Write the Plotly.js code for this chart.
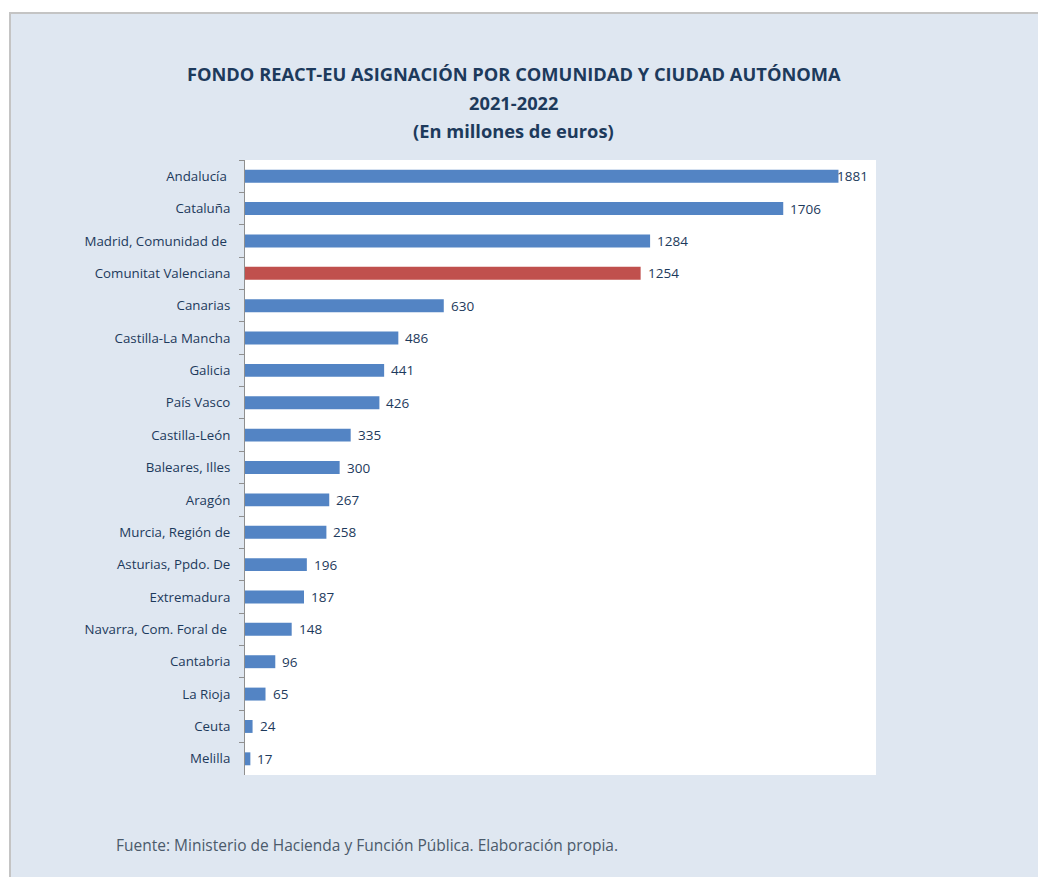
<!DOCTYPE html>
<html>
<head>
<meta charset="utf-8">
<script src="https://cdn.plot.ly/plotly-3.0.1.min.js"></script>
<style>
  html, body { margin: 0; padding: 0; background: #ffffff; }
  #chart { position: absolute; left: 9px; top: 12px; width: 1029px; height: 865px;
           border-top: 2px solid #c4c4c4; border-left: 2px solid #c4c4c4; }
</style>
</head>
<body>
<div id="chart"></div>
<script>
const categories = [
  "Andalucía ", "Cataluña", "Madrid, Comunidad de ", "Comunitat Valenciana",
  "Canarias", "Castilla-La Mancha", "Galicia", "País Vasco", "Castilla-León",
  "Baleares, Illes", "Aragón", "Murcia, Región de", "Asturias, Ppdo. De",
  "Extremadura", "Navarra, Com. Foral de ", "Cantabria", "La Rioja", "Ceuta", "Melilla"
];
const values = [1881, 1706, 1284, 1254, 630, 486, 441, 426, 335, 300, 267, 258, 196, 187, 148, 96, 65, 24, 17];
const highlight = "Comunitat Valenciana";
const titleLine1 = "FONDO REACT-EU ASIGNACIÓN POR COMUNIDAD Y CIUDAD AUTÓNOMA";
const titleLine2 = "2021-2022";
const titleLine3 = "(En millones de euros)";
const sourceText = "Fuente: Ministerio de Hacienda y Función Pública. Elaboración propia.";

const BLUE = "#5384c4", RED = "#c0504d", TXT = "#1d3a5c";
const colors = categories.map(c => c === highlight ? RED : BLUE);
const XMAX = 2000;

const trace = {
  type: "bar", orientation: "h",
  x: values, y: categories,
  marker: { color: colors, line: { width: 0 } },
  hoverinfo: "x+y"
};

const valueAnn = categories.map((c, i) => ({
  x: values[i], y: c, xref: "x", yref: "y",
  text: String(values[i]), showarrow: false,
  xanchor: "left", xshift: values[i] > 0.93 * XMAX ? -3 : 5,
  font: { family: "Open Sans, sans-serif", size: 13.5, color: TXT }
}));

const TF = { family: "Open Sans, sans-serif", size: 18.3, color: TXT };

const layout = {
  width: 1029, height: 865,
  paper_bgcolor: "#dfe7f1", plot_bgcolor: "#ffffff",
  margin: { l: 234, r: 164, t: 146, b: 104 },
  font: { family: "Open Sans, sans-serif", color: TXT },
  title: {
    text: "<b>" + titleLine1 + "</b>",
    x: 0.426, xref: "paper", xanchor: "center",
    y: 1 - 61/865, yref: "container", yanchor: "middle",
    font: TF
  },
  xaxis: {
    range: [0, XMAX], showgrid: false, zeroline: false,
    showticklabels: false, ticks: "", showline: false, fixedrange: true
  },
  yaxis: {
    type: "category", autorange: "reversed",
    showgrid: false, zeroline: false,
    showline: true, linecolor: "#8f8f8f", linewidth: 1,
    ticks: "outside", ticklen: 5, tickcolor: "#8f8f8f", tickson: "boundaries",
    ticklabelstandoff: 11,
    tickfont: { family: "Open Sans, sans-serif", size: 13.3, color: TXT }
  },
  bargap: 0.6,
  showlegend: false,
  annotations: valueAnn.concat([
    { text: "<b>" + titleLine2 + "</b>", xref: "paper", yref: "paper",
      x: 0.426, y: 1, yshift: 146 - 88, showarrow: false,
      xanchor: "center", yanchor: "middle", font: TF },
    { text: "<b>" + titleLine3 + "</b>", xref: "paper", yref: "paper",
      x: 0.426, y: 1, yshift: 146 - 116, showarrow: false,
      xanchor: "center", yanchor: "middle", font: TF },
    { text: sourceText, xref: "paper", yref: "paper",
      x: 0, y: 0, xshift: -(245 - 114), yshift: -(843 - 773),
      showarrow: false, xanchor: "left", yanchor: "middle",
      font: { family: "Open Sans, sans-serif", size: 15.5, color: "#4b5a6b" } }
  ])
};

Plotly.newPlot("chart", [trace], layout, { displayModeBar: false, staticPlot: true });
</script>
</body>
</html>
